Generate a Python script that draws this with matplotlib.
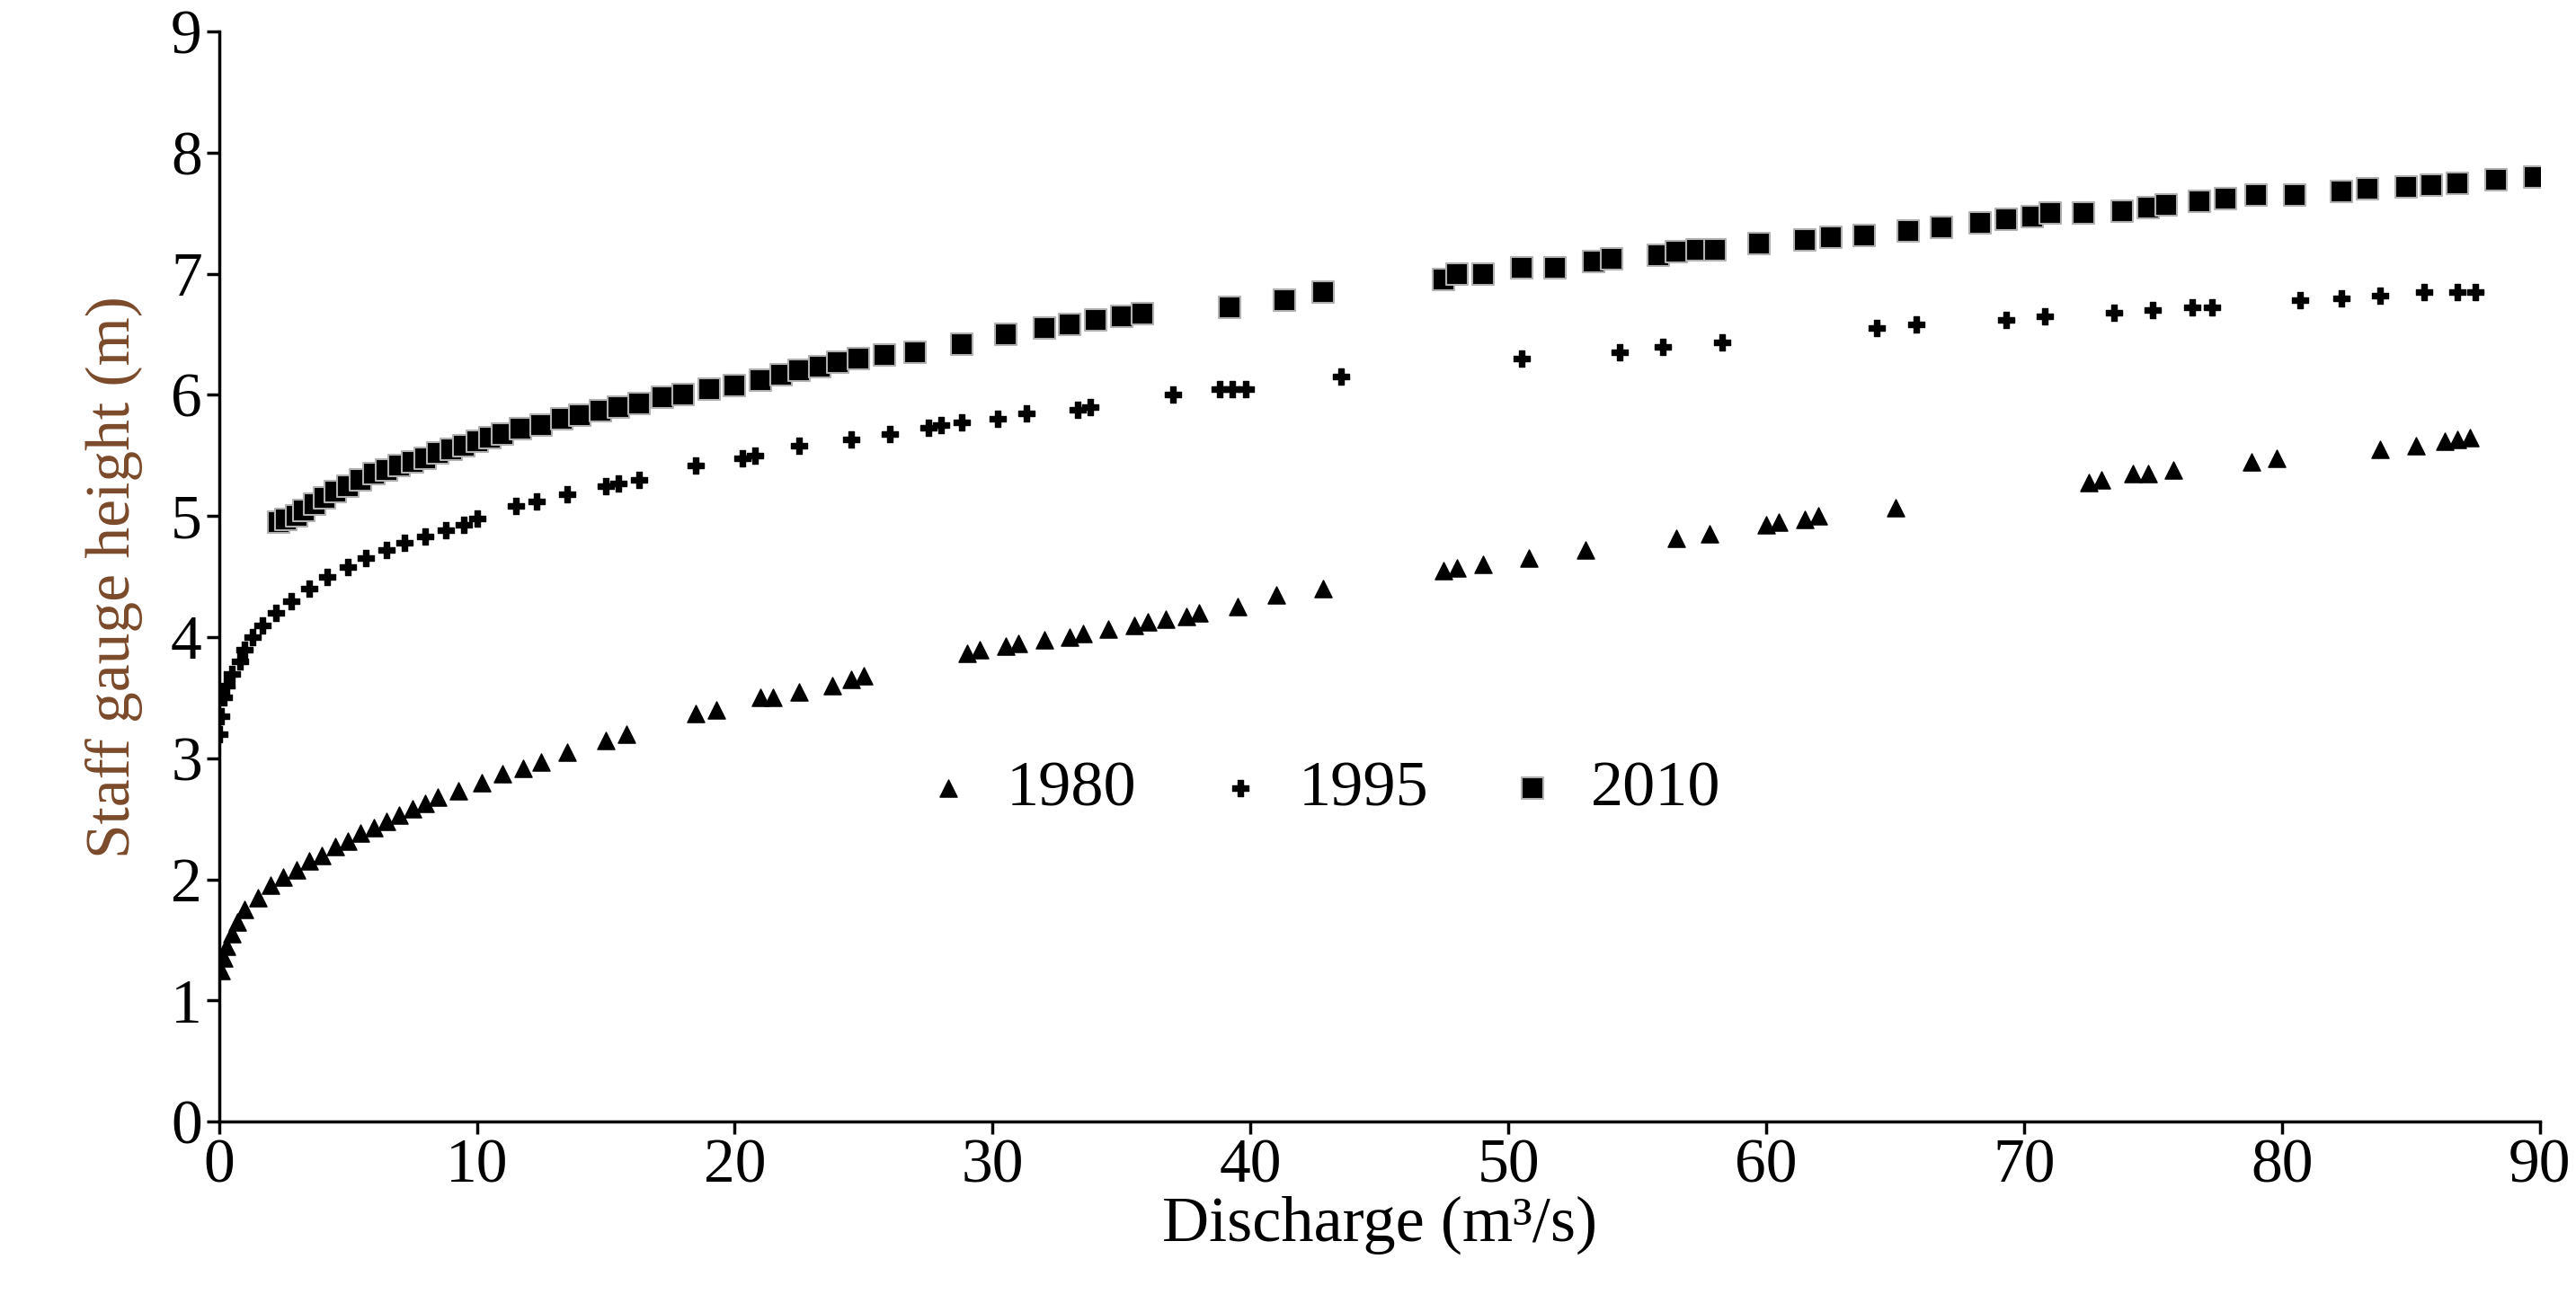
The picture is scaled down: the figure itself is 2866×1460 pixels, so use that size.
import matplotlib
matplotlib.use("Agg")
import matplotlib.pyplot as plt

x1980 = [0.1,0.2,0.3,0.5,0.7,1.0,1.5,2,2.5,3,3.5,4,4.5,5,5.5,6,6.5,7,7.5,8,8.5,9.3,10.2,11,11.8,12.5,13.5,15,15.8,18.5,19.3,21,21.5,22.5,23.8,24.5,25,29,29.5,30.5,31,32,33,33.5,34.5,35.5,36,36.7,37.5,38,39.5,41,42.8,47.5,48,49,50.8,53,56.5,57.8,60,60.5,61.5,62,65,72.5,73,74.2,74.8,75.8,78.8,79.8,83.8,85.2,86.3,86.8,87.3]
y1980 = [1.25,1.35,1.45,1.55,1.65,1.75,1.85,1.95,2.02,2.08,2.15,2.2,2.27,2.32,2.38,2.43,2.48,2.53,2.58,2.63,2.68,2.73,2.8,2.87,2.92,2.97,3.05,3.15,3.2,3.37,3.4,3.5,3.5,3.55,3.6,3.65,3.68,3.87,3.9,3.93,3.95,3.98,4.0,4.03,4.07,4.1,4.13,4.15,4.17,4.2,4.25,4.35,4.4,4.55,4.57,4.6,4.65,4.72,4.82,4.85,4.93,4.95,4.97,5.0,5.07,5.28,5.3,5.35,5.35,5.38,5.45,5.48,5.55,5.58,5.62,5.63,5.65]

x1995 = [0,0.1,0.2,0.3,0.5,0.8,1.0,1.3,1.7,2.2,2.8,3.5,4.2,5,5.7,6.5,7.2,8,8.8,9.5,10,11.5,12.3,13.5,15,15.5,16.3,18.5,20.3,20.8,22.5,24.5,26,27.5,28,28.8,30.2,31.3,33.3,33.8,37,38.8,39.3,39.8,43.5,50.5,54.3,56,58.3,64.3,65.8,69.3,70.8,73.5,75,76.5,77.3,80.7,82.3,83.8,85.5,86.8,87.5]
y1995 = [3.2,3.35,3.5,3.6,3.7,3.8,3.9,4.0,4.1,4.2,4.3,4.4,4.5,4.58,4.65,4.72,4.78,4.83,4.88,4.93,4.98,5.08,5.12,5.18,5.25,5.27,5.3,5.42,5.48,5.5,5.58,5.63,5.68,5.73,5.75,5.77,5.8,5.85,5.88,5.9,6.0,6.05,6.05,6.05,6.15,6.3,6.35,6.4,6.43,6.55,6.58,6.62,6.65,6.68,6.7,6.72,6.72,6.78,6.8,6.82,6.85,6.85,6.85]

x2010 = [2.3,2.6,3,3.3,3.7,4.1,4.5,5,5.5,6,6.5,7,7.5,8,8.5,9,9.5,10,10.5,11,11.7,12.5,13.3,14,14.8,15.5,16.3,17.2,18,19,20,21,21.8,22.5,23.3,24,24.8,25.8,27,28.8,30.5,32,33,34,35,35.8,39.2,41.3,42.8,47.5,48,49,50.5,51.8,53.3,54,55.8,56.5,57.3,58,59.7,61.5,62.5,63.8,65.5,66.8,68.3,69.3,70.3,71,72.3,73.8,74.8,75.5,76.8,77.8,79,80.5,82.3,83.3,84.8,85.8,86.8,88.3,89.8]
y2010 = [4.95,4.97,5.0,5.05,5.1,5.15,5.2,5.25,5.3,5.35,5.38,5.42,5.45,5.48,5.52,5.55,5.58,5.62,5.65,5.68,5.72,5.75,5.8,5.83,5.87,5.9,5.93,5.98,6.0,6.05,6.08,6.12,6.17,6.2,6.23,6.27,6.3,6.33,6.35,6.42,6.5,6.55,6.58,6.62,6.65,6.67,6.72,6.78,6.85,6.95,7.0,7.0,7.05,7.05,7.1,7.12,7.15,7.18,7.2,7.2,7.25,7.28,7.3,7.32,7.35,7.38,7.42,7.45,7.47,7.5,7.5,7.52,7.55,7.57,7.6,7.62,7.65,7.65,7.68,7.7,7.72,7.73,7.75,7.78,7.8]

plt.rcParams['font.family'] = ['Liberation Serif', 'DejaVu Serif']
fig = plt.figure(figsize=(28.66, 14.60), dpi=100)
ax = fig.add_axes([0.085, 0.145, 0.901, 0.831])
ax.scatter(x1980, y1980, marker='^', s=190, color='black', label='1980', zorder=3)
ax.scatter(x1995, y1995, marker='P', s=170, color='black', label='1995', zorder=3)
ax.scatter(x2010, y2010, marker='s', s=300, color='black', edgecolor='#b0b0b0', linewidth=1.5, label='2010', zorder=3)
ax.set_xlim(0, 90)
ax.set_ylim(0, 9)
ax.set_xticks(range(0, 91, 10))
ax.set_yticks(range(0, 10))
for s in ['top', 'right']:
    ax.spines[s].set_visible(False)
for s in ['left', 'bottom']:
    ax.spines[s].set_linewidth(2.5)
ax.tick_params(axis='both', labelsize=50, width=2.5, length=10, direction='out')
ax.set_xlabel('Discharge (m³/s)', fontsize=52, labelpad=0)
ax.set_ylabel('Staff gauge height (m)', fontsize=50, color='#7a4a2a', labelpad=22)
ax.legend(loc='center', bbox_to_anchor=(0.475, 0.305), ncol=3, frameon=False,
          fontsize=52, markerscale=1.0, handlelength=0.8, handletextpad=0.5, columnspacing=1.2)
fig.savefig('out.png', dpi=100)
